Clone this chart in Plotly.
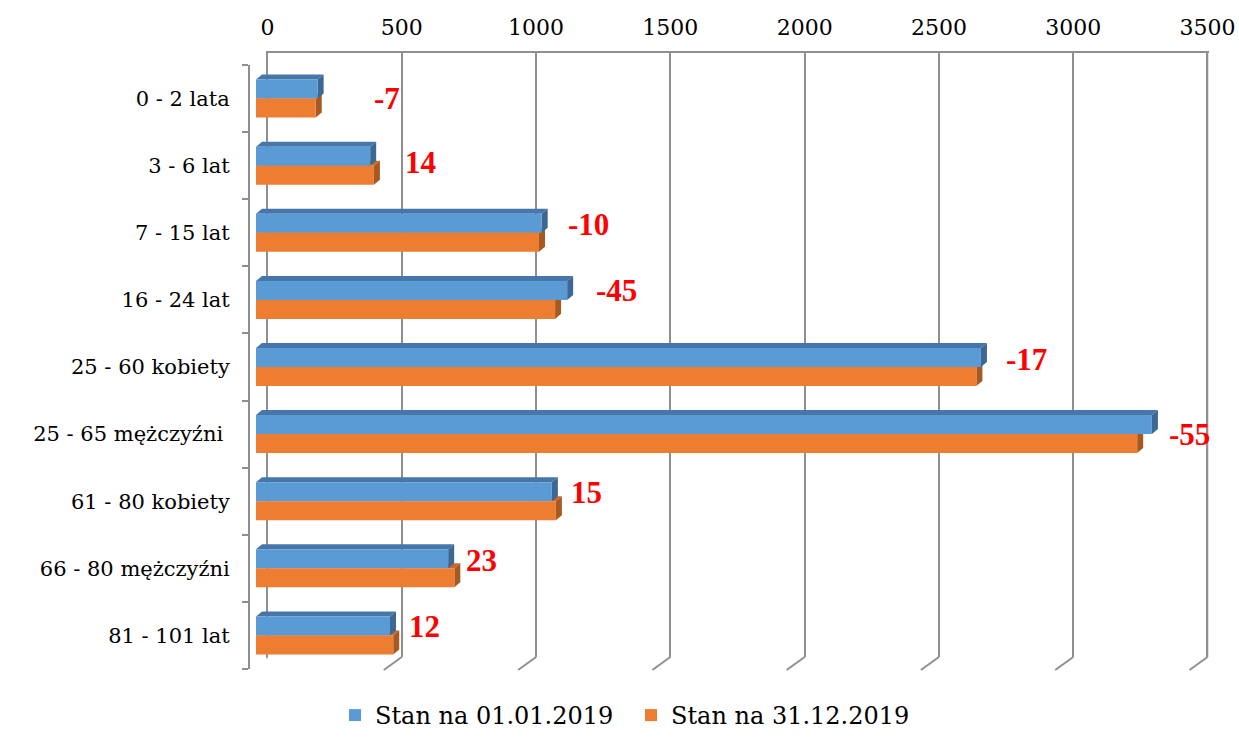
import plotly.graph_objects as go

# ---------------- data ----------------
categories = ["0 - 2 lata", "3 - 6 lat", "7 - 15 lat", "16 - 24 lat", "25 - 60 kobiety",
              "25 - 65 mężczyźni ", "61 - 80 kobiety", "66 - 80 mężczyźni", "81 - 101 lat"]
stan_start = [230, 426, 1066, 1161, 2705, 3343, 1104, 717, 500]
stan_end = [223, 440, 1056, 1116, 2688, 3288, 1119, 740, 512]
series_names = ["Stan na 01.01.2019", "Stan na 31.12.2019"]
x_ticks = [0, 500, 1000, 1500, 2000, 2500, 3000, 3500]

# ---------------- layout helpers ----------------
W, H = 1239, 738
def fx(px):
    return px / W
def fy(py):
    return 1 - py / H

BLUE, ORANGE = "#5B9BD5", "#ED7D31"
BLUE_TOP, BLUE_SIDE = "#4676AA", "#3D6894"
OR_TOP, OR_SIDE = "#C8672A", "#A65A22"
GRID = "#8F8F8F"

PX_PER_UNIT = 134.0 / 500          # horizontal scale
ZERO_FRONT = 256                     # pixel of 0 for bar front faces
ZERO_BACK = 267.5                    # pixel of 0 for back wall grid
BAR_W = 0.283                        # bar thickness (category units)
DX = 6 / PX_PER_UNIT                 # 3-D depth (data units)
DY = 5 / 67.0                        # 3-D depth (category units)

label_xshift = [54, 29, 24, 27, 23, 15, 13, 10, 14]
label_yshift = [0, 3, 8, 9, 8, 0, 9, 8, 9]

idx = list(range(len(categories)))

fig = go.Figure()

# dummy trace to create the back-plane (grid) subplot
fig.add_trace(go.Scatter(x=[None], y=[None], xaxis="x", yaxis="y",
                         showlegend=False, hoverinfo="skip"))

fig.add_trace(go.Bar(y=idx, x=stan_start, orientation="h", name=series_names[0],
                     marker=dict(color=BLUE, line=dict(width=0)),
                     width=BAR_W, offset=-BAR_W, xaxis="x2", yaxis="y2"))
fig.add_trace(go.Bar(y=idx, x=stan_end, orientation="h", name=series_names[1],
                     marker=dict(color=ORANGE, line=dict(width=0)),
                     width=BAR_W, offset=0, xaxis="x2", yaxis="y2"))

shapes = []
def poly(pts, color):
    path = "M " + " L ".join(f"{x},{y}" for x, y in pts) + " Z"
    return dict(type="path", path=path, xref="x2", yref="y2", layer="between",
                fillcolor=color, line=dict(width=0))

for i, (b, o) in enumerate(zip(stan_start, stan_end)):
    shapes.append(poly([(0, i), (o, i), (o + DX, i - DY), (DX, i - DY)], OR_TOP))
    shapes.append(poly([(o, i), (o + DX, i - DY), (o + DX, i + BAR_W - DY), (o, i + BAR_W)], OR_SIDE))
for i, (b, o) in enumerate(zip(stan_start, stan_end)):
    t = i - BAR_W
    shapes.append(poly([(0, t), (b, t), (b + DX, t - DY), (DX, t - DY)], BLUE_TOP))
    shapes.append(poly([(b, t), (b + DX, t - DY), (b + DX, i - DY), (b, i)], BLUE_SIDE))

# back-wall gridline at the far right (kept explicit so it is never clipped)
shapes.append(dict(type="line", xref="x", yref="paper", x0=x_ticks[-1], x1=x_ticks[-1],
                   y0=fy(657), y1=fy(53), line=dict(color=GRID, width=2), layer="below"))
# slanted bottom ends of gridlines and top-left corner of the wall
for t in x_ticks:
    shapes.append(dict(type="line", xref="x", yref="paper", xsizemode="pixel", xanchor=t,
                       x0=0, x1=-18, y0=fy(657), y1=fy(670),
                       line=dict(color=GRID, width=2), layer="above"))
shapes.append(dict(type="line", xref="x", yref="paper", xsizemode="pixel", xanchor=0,
                   x0=0, x1=-18, y0=fy(53), y1=fy(66),
                   line=dict(color=GRID, width=2), layer="above"))

annotations = []
for i, (b, o) in enumerate(zip(stan_start, stan_end)):
    annotations.append(dict(x=max(b, o), y=i, xref="x2", yref="y2", text=str(o - b),
                            xanchor="left", yanchor="middle", showarrow=False,
                            xshift=label_xshift[i], yshift=label_yshift[i],
                            font=dict(family="Liberation Serif", size=31, color="#FF0000",
                                      weight="bold")))

x2_left = -(ZERO_FRONT - 250) / PX_PER_UNIT
x2_right = (1207 - ZERO_FRONT) / PX_PER_UNIT

X_LO, X_HI = -4, 3504
BACK_SCALE = (1207.5 - ZERO_BACK) / 3500

fig.update_layout(
    width=W, height=H,
    margin=dict(l=0, r=0, t=0, b=0),
    paper_bgcolor="white", plot_bgcolor="rgba(0,0,0,0)",
    font=dict(family="DejaVu Serif", size=21, color="#000000"),
    barmode="overlay",
    xaxis=dict(domain=[fx(ZERO_BACK + X_LO * BACK_SCALE), fx(ZERO_BACK + X_HI * BACK_SCALE)],
               range=[X_LO, X_HI], side="top", anchor="y",
               tickvals=x_ticks, ticktext=[str(t) for t in x_ticks],
               tickfont=dict(size=22),
               showgrid=True, gridcolor=GRID, gridwidth=2,
               zeroline=True, zerolinecolor=GRID, zerolinewidth=2,
               showline=True, linecolor=GRID, linewidth=2, ticks="",
               ticklabelstandoff=7, automargin=False, fixedrange=True),
    yaxis=dict(domain=[fy(657), fy(53)], range=[0, 1], anchor="x", visible=False,
               fixedrange=True),
    xaxis2=dict(domain=[fx(250), fx(1207)], range=[x2_left, x2_right], anchor="y2",
                visible=False, fixedrange=True),
    yaxis2=dict(domain=[fy(669), fy(65)], range=[8.5, -0.5], anchor="x2",
                tickvals=idx, ticktext=categories, ticks="",
                showgrid=False, zeroline=False,
                showline=True, linecolor=GRID, linewidth=2,
                minor=dict(tickvals=[k - 0.5 for k in range(len(categories) + 1)],
                           ticks="outside", ticklen=6, tickcolor=GRID, tickwidth=1.5,
                           showgrid=False),
                ticklabelstandoff=14, automargin=False, fixedrange=True),
    legend=dict(orientation="h", x=fx(376 - 41), xanchor="left", y=0, yanchor="bottom",
                font=dict(size=24), traceorder="normal", itemwidth=30, entrywidth=251,
                bgcolor="rgba(0,0,0,0)"),
    shapes=shapes,
    annotations=annotations,
    showlegend=True,
)

fig.write_html("out.html", config={"displayModeBar": False},
               post_script="document.body.style.margin='0px';")
